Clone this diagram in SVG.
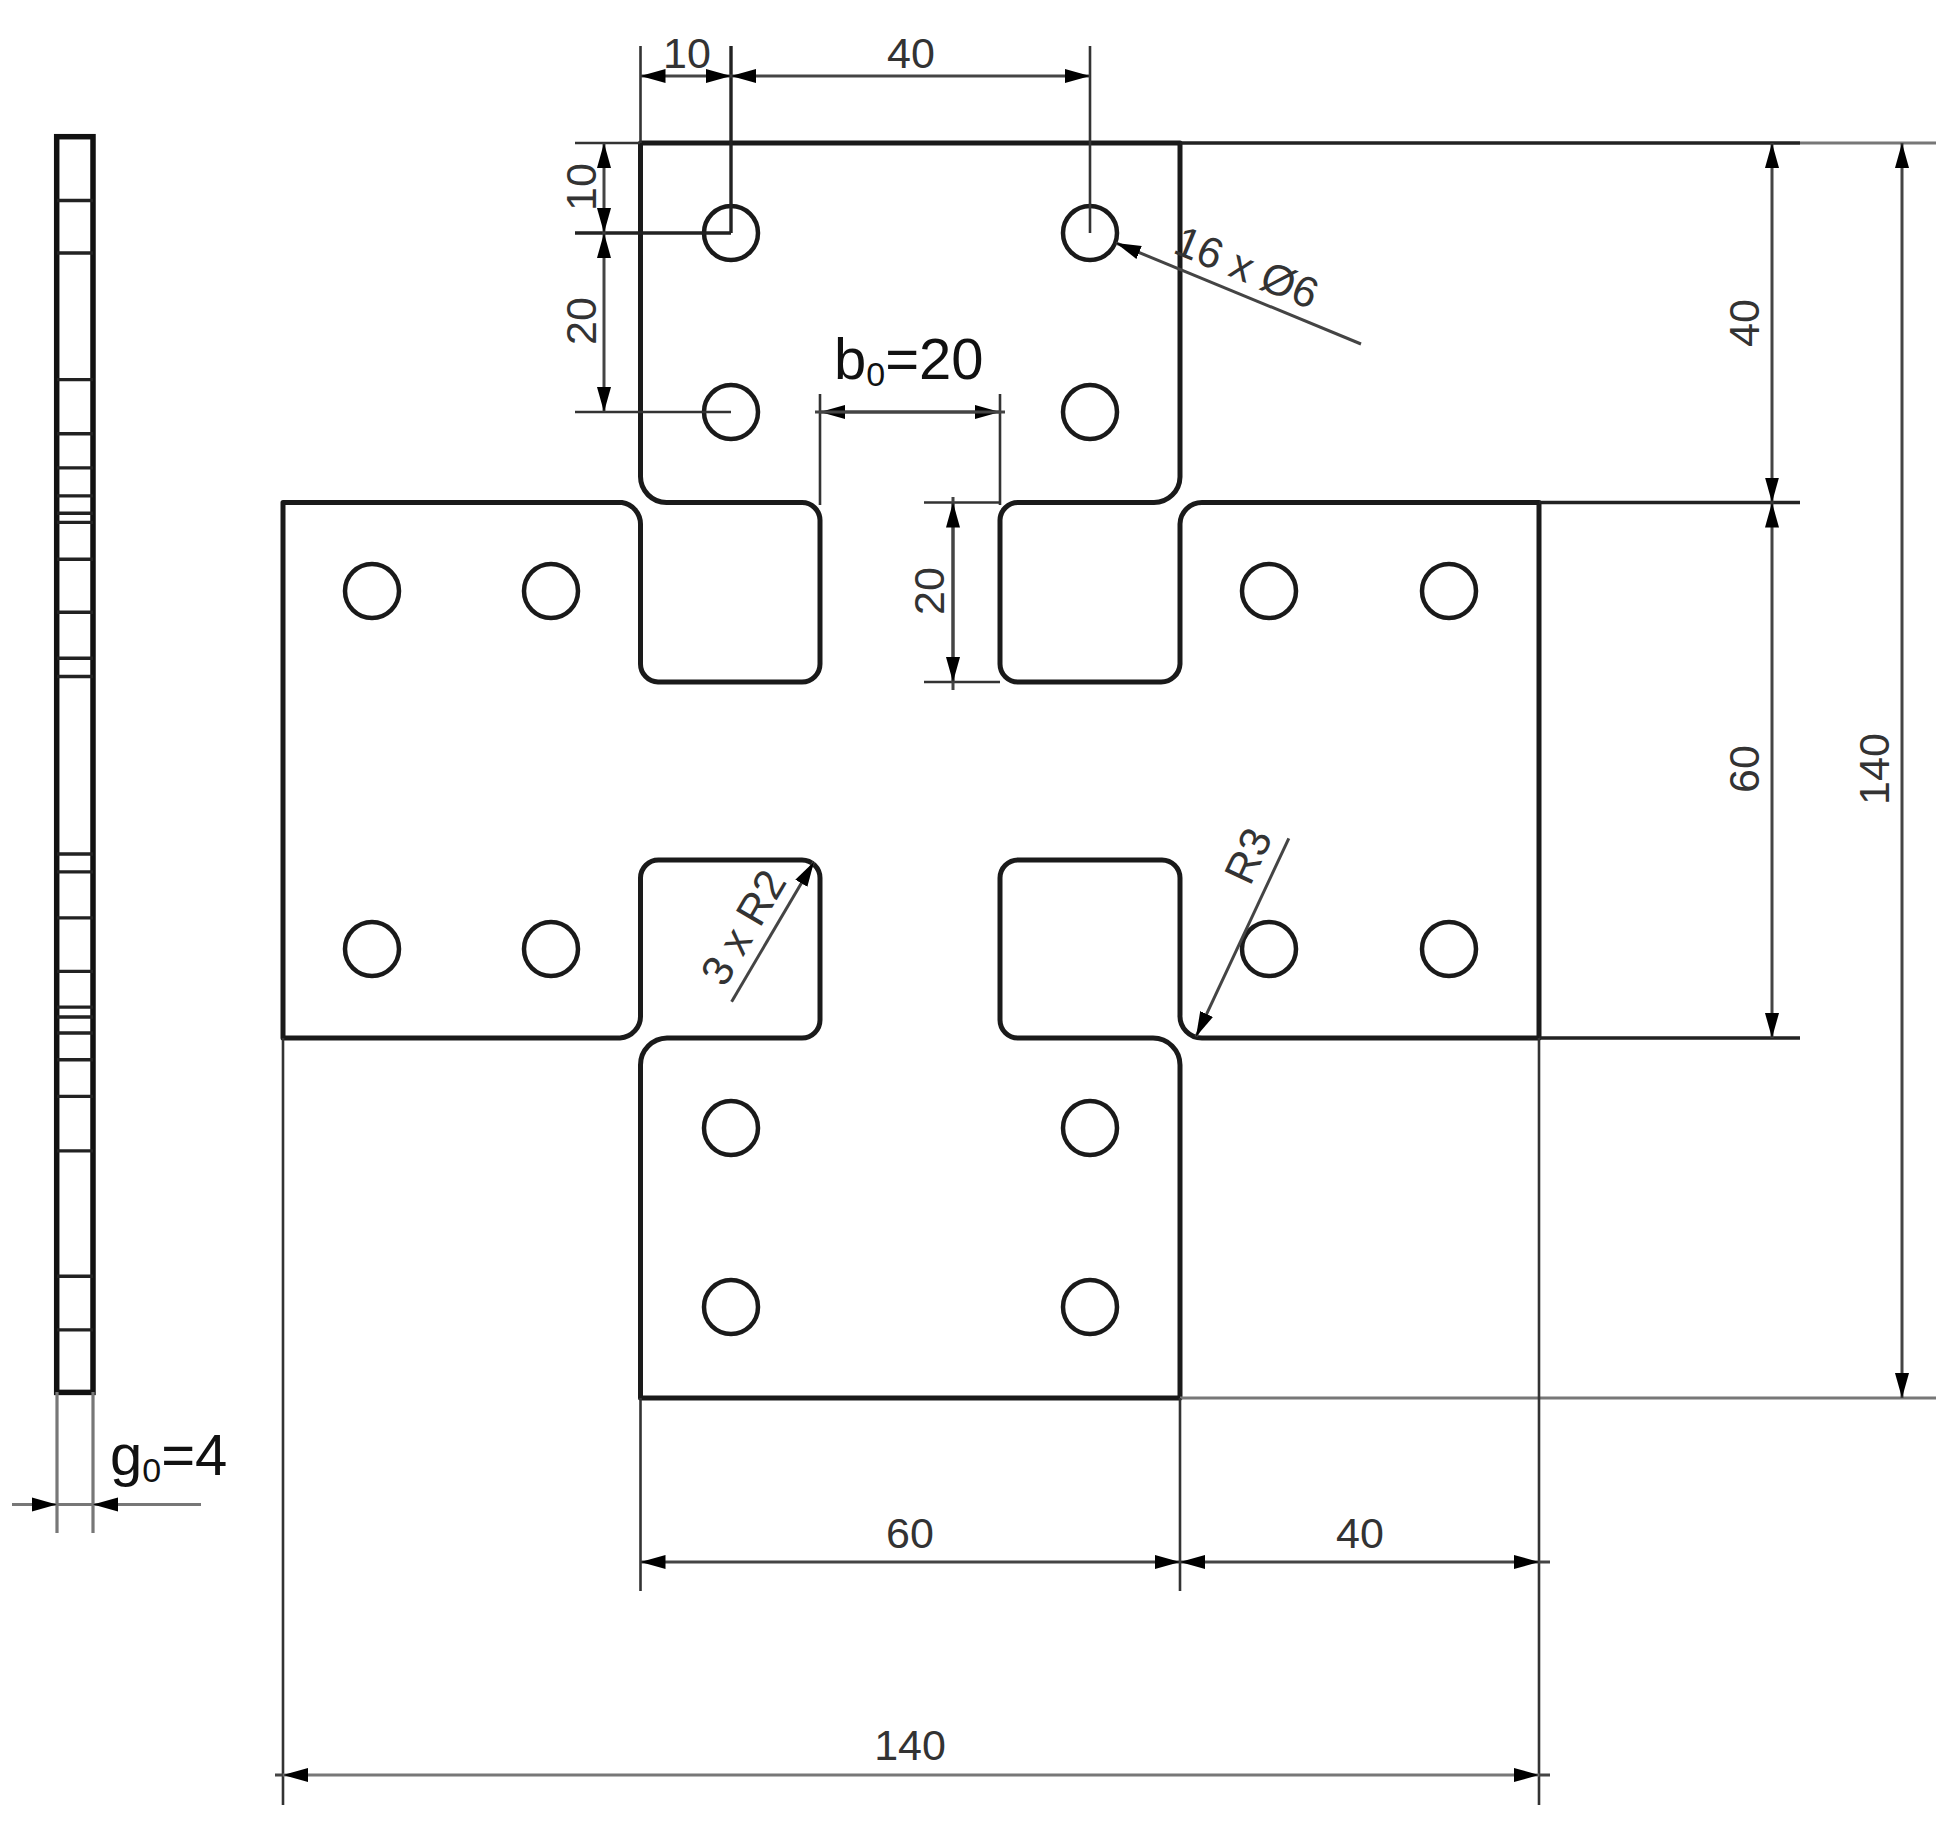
<svg xmlns="http://www.w3.org/2000/svg" width="1946" height="1826" viewBox="0 0 1946 1826">
<style>
.o{fill:none;stroke:#1a1a1a;stroke-width:5;stroke-linejoin:round}
.h{fill:#fff;stroke:#1a1a1a;stroke-width:4.5}
.e{fill:none;stroke:#333;stroke-width:2.6}
.t{fill:none;stroke:#222;stroke-width:3.4}
.g{fill:none;stroke:#777;stroke-width:3.2}
.a{marker-end:url(#ar);marker-start:url(#ar)}
.b{marker-end:url(#ar)}
.d{font-family:"Liberation Sans",Arial,sans-serif;font-size:43px;fill:#333;text-anchor:middle}
.k{font-family:"Liberation Sans",Arial,sans-serif;font-size:58px;fill:#111}
.s{font-size:34px}
.l{fill:none;stroke:#222;stroke-width:3.4}
.m{fill:none;stroke:#444;stroke-width:3}
</style>
<defs>
<marker id="ar" markerUnits="userSpaceOnUse" markerWidth="26" markerHeight="16" refX="25" refY="8" orient="auto-start-reverse"><path d="M0,1 L25,8 L0,15 Z" fill="#000"/></marker>
</defs>
<rect width="1946" height="1826" fill="#fff"/>
<g id="side-view">
<rect x="56.7" y="136.7" width="36.3" height="1255.7" fill="#fff" stroke="#111" stroke-width="5.5"/>
<path class="l" d="M57,200.5H93M57,253H93M57,379.6H93M57,433.7H93M57,467.9H93M57,495.9H93M57,513.3H93M57,522.4H93M57,559.2H93M57,612.2H93M57,658.2H93M57,676.5H93M57,854H93M57,871.9H93M57,917.9H93M57,971.4H93M57,1007.1H93M57,1017H93M57,1033H93M57,1059.8H93M57,1096.4H93M57,1150.9H93M57,1276.3H93M57,1329.9H93"/>
</g>
<g id="plate">
<path class="o" d="M640.5,143H1180V477A26,26 0 0 1 1154,502.5H1018A18,18 0 0 0 1000,520V664A18,18 0 0 0 1018,682H1161A19,19 0 0 0 1180,664V524A22,22 0 0 1 1202,502.5H1539V1038H1202A22,22 0 0 1 1180,1015V878A18,18 0 0 0 1162,860H1018A18,18 0 0 0 1000,878V1020A18,18 0 0 0 1018,1038H1153A27,27 0 0 1 1180,1065V1398H640.5V1065A27,27 0 0 1 667,1038H802A18,18 0 0 0 820,1020V878A18,18 0 0 0 802,860H659A18,18 0 0 0 640.5,878V1015A22,22 0 0 1 620,1038H283V502.5H622A22,22 0 0 1 640.5,524V664A18,18 0 0 0 658,682H802A18,18 0 0 0 820,664V520A18,18 0 0 0 802,502.5H667A26,26 0 0 1 640.5,476Z"/>
</g>
<g id="holes">
<circle class="h" cx="731" cy="233" r="27"/><circle class="h" cx="1090" cy="233" r="27"/>
<circle class="h" cx="731" cy="412" r="27"/><circle class="h" cx="1090" cy="412" r="27"/>
<circle class="h" cx="372" cy="591" r="27"/><circle class="h" cx="551" cy="591" r="27"/>
<circle class="h" cx="1269" cy="591" r="27"/><circle class="h" cx="1449" cy="591" r="27"/>
<circle class="h" cx="372" cy="949" r="27"/><circle class="h" cx="551" cy="949" r="27"/>
<circle class="h" cx="1269" cy="949" r="27"/><circle class="h" cx="1449" cy="949" r="27"/>
<circle class="h" cx="731" cy="1128" r="27"/><circle class="h" cx="1090" cy="1128" r="27"/>
<circle class="h" cx="731" cy="1307" r="27"/><circle class="h" cx="1090" cy="1307" r="27"/>
</g>
<g id="connectors">
<path class="t" d="M731,46V233M575,233H731"/>
<path class="e" d="M640.5,46V143M1090,46V233M575,143H640M575,412H731M820,394V505M1000,394V505M924,502.5H1000M924,682H1000"/>
<path class="t" d="M1180,143H1800M1539,502.5H1800M1539,1038H1800"/>
<path class="g" d="M1800,143H1936M1180,1398H1936"/>
<path class="e" d="M640.5,1398V1591M1180,1398V1591M1539,1038V1805M283,1038V1805"/>
<path class="g" d="M57,1392V1533M93,1392V1533M12,1504.5H201"/>
<path class="m a" d="M640.5,76H731"/>
<path class="m a" d="M731,76H1090"/>
<path class="m a" d="M604,143V233"/>
<path class="m a" d="M604,233V412"/>
<path class="m a" d="M820,412H1000"/>
<path class="m" d="M815,412H1005M953,497V690"/>
<path class="m a" d="M953,502.5V682"/>
<path class="m a" d="M1772,143V502.5"/>
<path class="m a" d="M1772,502.5V1038"/>
<path class="m a" d="M1902,143V1398"/>
<path class="m a" d="M640.5,1562H1180"/>
<path class="m a" d="M1180,1562H1539"/>
<path class="m" d="M1539,1562H1550M1539,1775H1550M283,1775H275"/>
<path class="g a" d="M283,1775H1539"/>
<path class="m b" d="M1361,344L1116,243"/>
<path class="m b" d="M731.6,1001.7L814,861.7"/>
<path class="m b" d="M1288.8,838.3L1196,1036.7"/>
<path class="g b" d="M12,1504.5H56.7"/>
<path class="g b" d="M201,1504.5H93"/>
</g>
<g id="labels">
<text class="d" x="687" y="68">10</text>
<text class="d" x="911" y="68">40</text>
<text class="d" transform="translate(596,187) rotate(-90)">10</text>
<text class="d" transform="translate(596,321) rotate(-90)">20</text>
<text class="d" transform="translate(944,591) rotate(-90)">20</text>
<text class="d" transform="translate(1759,323) rotate(-90)">40</text>
<text class="d" transform="translate(1759,769) rotate(-90)">60</text>
<text class="d" transform="translate(1889,769) rotate(-90)">140</text>
<text class="d" x="910" y="1548">60</text>
<text class="d" x="1360" y="1548">40</text>
<text class="d" x="910" y="1760">140</text>
<text class="d" transform="translate(1241,281) rotate(22.4)">16 x Ø6</text>
<text class="d" transform="translate(756,935) rotate(-59.5)">3 x R2</text>
<text class="d" transform="translate(1261.5,862) rotate(-65)">R3</text>
<text class="k" x="834" y="379">b<tspan class="s" dy="7">0</tspan><tspan dy="-7">=20</tspan></text>
<text class="k" x="110" y="1475">g<tspan class="s" dy="7">0</tspan><tspan dy="-7">=4</tspan></text>
</g>
</svg>
